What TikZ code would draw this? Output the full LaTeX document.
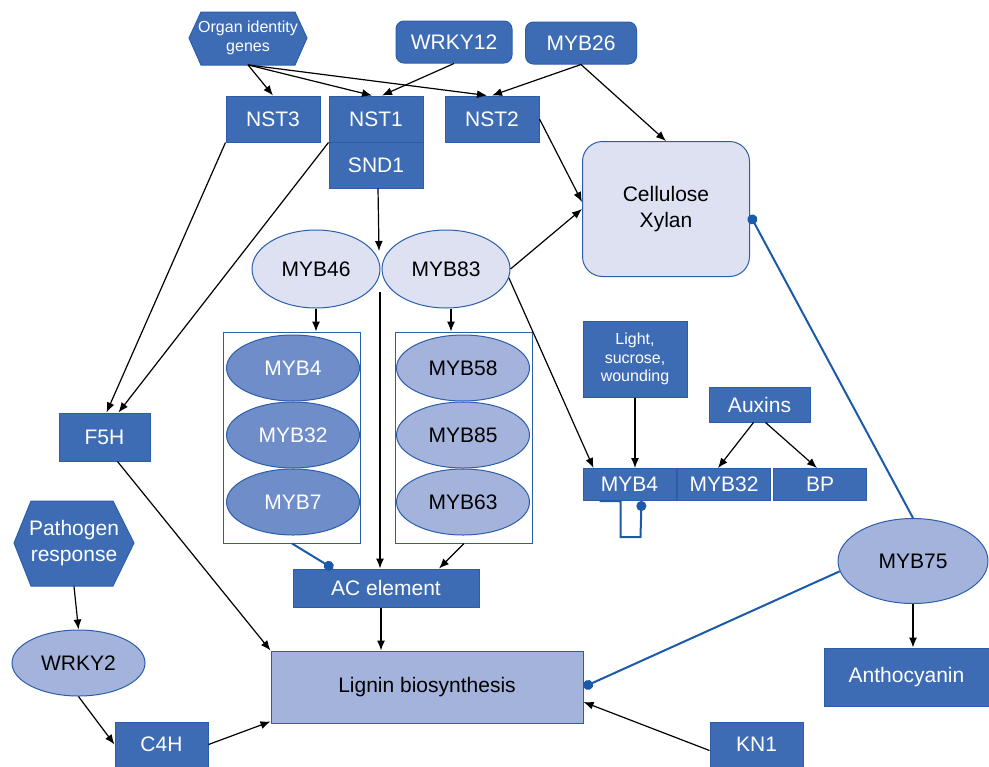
\documentclass[tikz,border=0pt]{standalone}
\usepackage{fontspec}
\setmainfont{Liberation Sans}
\usetikzlibrary{arrows.meta}
\usetikzlibrary{shapes.geometric}
\tikzset{>={Latex[length=5pt,width=4pt]}}
\definecolor{boxblue}{HTML}{3D6CB5}
\definecolor{rimblue}{HTML}{2B5EAA}
\definecolor{midblue}{HTML}{6F8DC8}
\definecolor{softblue}{HTML}{A4B3DC}
\definecolor{paleblue}{HTML}{DDE1F2}
\definecolor{linkblue}{HTML}{1A5AA8}

\begin{document}
\begin{tikzpicture}[x=0.5pt, y=-0.5pt,
        every node/.style={font=\fontsize{10.5}{13}\selectfont, align=center, inner sep=1pt},
        gene/.style={draw=rimblue, fill=boxblue, text=white, line width=0.5pt, minimum width=47pt, minimum height=23pt},
        roundgene/.style={gene, rounded corners=4pt, minimum height=21pt},
        smalltext/.style={font=\fontsize{8}{9.3}\selectfont},
        hexfill/.style={draw=rimblue, fill=boxblue, line width=0.5pt},
        darkmyb/.style={ellipse, draw=rimblue, fill=midblue, text=white, line width=0.5pt, minimum width=66.5pt, minimum height=33pt},
        lightmyb/.style={ellipse, draw=rimblue, fill=softblue, line width=0.5pt, minimum width=66.5pt, minimum height=33pt},
        group/.style={draw=rimblue, fill=white, line width=0.5pt, minimum width=68.5pt, minimum height=105.5pt},
        act/.style={->, line width=0.6pt},
        inhib/.style={-{Circle[length=5pt]}, draw=linkblue, line width=1pt}]
    \useasboundingbox (0,0) rectangle (989,766);

    \filldraw[hexfill] (189,38) -- (201,12) -- (295,12) -- (307,38) -- (295,65) -- (201,65) -- cycle;
    \node[smalltext, text=white, minimum width=59pt, minimum height=26.5pt] (organ) at (248,38) {Organ identity\\genes};
    \node[roundgene, minimum width=58pt] (wrky12) at (454,42) {WRKY12};
    \node[roundgene, minimum width=55.5pt] (myb26) at (581,43) {MYB26};

    \node[gene] (nst3) at (273,119) {NST3};
    \node[gene] (nst1) at (376,119) {NST1};
    \node[gene] (snd1) at (376,165) {SND1};
    \node[gene] (nst2) at (492,119) {NST2};

    \node[draw=rimblue, fill=paleblue, rounded corners=10pt, line width=0.5pt, minimum width=83.5pt, minimum height=67.5pt] (cellulose) at (666,209) {Cellulose\\Xylan};

    \node[ellipse, draw=rimblue, fill=paleblue, line width=0.5pt, minimum width=64pt, minimum height=39pt] (myb46) at (316,269) {MYB46};
    \node[ellipse, draw=rimblue, fill=paleblue, line width=0.5pt, minimum width=64pt, minimum height=39pt] (myb83) at (446,269) {MYB83};
    \coordinate (hub) at (379,251);
    \coordinate (hubfoot) at (380,292);

    \node[group] (leftgrp) at (292,437.5) {};
    \node[darkmyb] (myb4) at (293,368) {MYB4};
    \node[darkmyb] (myb32) at (293,435) {MYB32};
    \node[darkmyb] (myb7) at (293,502) {MYB7};

    \node[group] (rightgrp) at (464,437.5) {};
    \node[lightmyb] (myb58) at (463,368) {MYB58};
    \node[lightmyb] (myb85) at (463,435) {MYB85};
    \node[lightmyb] (myb63) at (463,502) {MYB63};

    \node[gene, smalltext, minimum width=52pt, minimum height=38pt] (light) at (635,359) {Light,\\sucrose,\\wounding};
    \node[gene, minimum width=50.5pt, minimum height=17.5pt] (auxins) at (759.5,404.5) {Auxins};
    \node[gene, minimum width=46.5pt, minimum height=16pt] (myb4r) at (629.5,484.5) {MYB4};
    \node[gene, minimum width=46.5pt, minimum height=16pt] (myb32r) at (724,484.5) {MYB32};
    \node[gene, minimum width=46.5pt, minimum height=16pt] (bp) at (820,484.5) {BP};

    \node[gene, minimum width=45.5pt, minimum height=24pt] (f5h) at (104.5,437) {F5H};

    \filldraw[hexfill] (14,543) -- (31,501) -- (113,501) -- (134,543) -- (113,586) -- (31,586) -- cycle;
    \node[text=white, minimum width=60pt, minimum height=42.5pt] (pathogen) at (74,543.5) {Pathogen\\response};
    \node[lightmyb] (wrky2) at (78.5,663) {WRKY2};
    \node[gene, minimum width=46.5pt, minimum height=22.5pt] (c4h) at (161.5,744.5) {C4H};

    \node[gene, minimum width=93pt, minimum height=19pt] (ac) at (386,588) {AC element};
    \node[draw=rimblue, fill=softblue, line width=0.5pt, minimum width=156pt, minimum height=36pt] (lignin) at (427,687) {Lignin biosynthesis};

    \node[ellipse, draw=rimblue, fill=softblue, line width=0.5pt, minimum width=75pt, minimum height=42.5pt] (myb75) at (913,561) {MYB75};
    \node[gene, minimum width=82.5pt, minimum height=29pt] (antho) at (906.5,677) {Anthocyanin};
    \node[gene, minimum width=46.5pt, minimum height=22.5pt] (kn1) at (756.5,744.5) {KN1};

    \draw[act] (organ.south) -- (nst3.north);
    \draw[act] (organ.south) -- ([xshift=-2pt]nst1.north);
    \draw[act] (organ.south) -- ([xshift=-2.5pt]nst2.north);
    \draw[act] (wrky12.south) -- ([xshift=3pt]nst1.north);
    \draw[act] (myb26.south) -- (nst2.north);
    \draw[act] (myb26.south) -- (cellulose.north);
    \draw[act] (nst3.south west) -- ([xshift=1pt]f5h.north);
    \draw[act] (nst1.south west) -- ([xshift=7pt]f5h.north);
    \draw[act] ([xshift=1pt]snd1.south) -- (hub);
    \draw[act] (nst2.east) -- ([yshift=3.5pt]cellulose.west);
    \draw[act] (myb83.east) -- (cellulose.west);
    \draw[act] (myb83.-8) -- ([xshift=-18pt]myb4r.north);
    \draw[act] (myb46.south) -- (myb46.south |- leftgrp.north);
    \draw[act] ([xshift=2.5pt]myb83.south) -- ([xshift=2.5pt]myb83.south |- rightgrp.north);
    \draw[act] (hubfoot) -- (hubfoot |- ac.north);
    \draw[act] (rightgrp.south) -- ([xshift=26.5pt]ac.north);
    \draw[inhib] (leftgrp.south) -- ([xshift=-26.5pt]ac.north);
    \draw[act] ([xshift=-2.5pt]ac.south) -- ([xshift=-2.5pt]ac.south |- lignin.north);
    \draw[act] ([xshift=6.5pt]f5h.south) -- (lignin.north west);
    \draw[act] (pathogen.south) -- (wrky2.north);
    \draw[act] (wrky2.south) -- (c4h.west);
    \draw[act] (c4h.east) -- ([yshift=1pt]lignin.south west);
    \draw[act] ([yshift=-3pt]kn1.west) -- ([yshift=-7.5pt]lignin.east);
    \draw[inhib] (myb75.188) -- (lignin.east);
    \draw[inhib] (myb75.north) -- ([yshift=-3pt]cellulose.east);
    \draw[act] (myb75.south) -- (myb75.south |- antho.north);
    \draw[act] (light.south) -- (light.south |- myb4r.north);
    \draw[act] ([xshift=-3pt]auxins.south) -- ([xshift=-3pt]myb32r.north);
    \draw[act] ([xshift=3pt]auxins.south) -- ([xshift=-1.5pt]bp.north);
    \draw[inhib] ([xshift=-15pt]myb4r.south) -- ++(10.5pt,0) -- ++(0,-18pt) -- ++(10pt,0) -- ([xshift=6pt]myb4r.south);
\end{tikzpicture}
\end{document}
